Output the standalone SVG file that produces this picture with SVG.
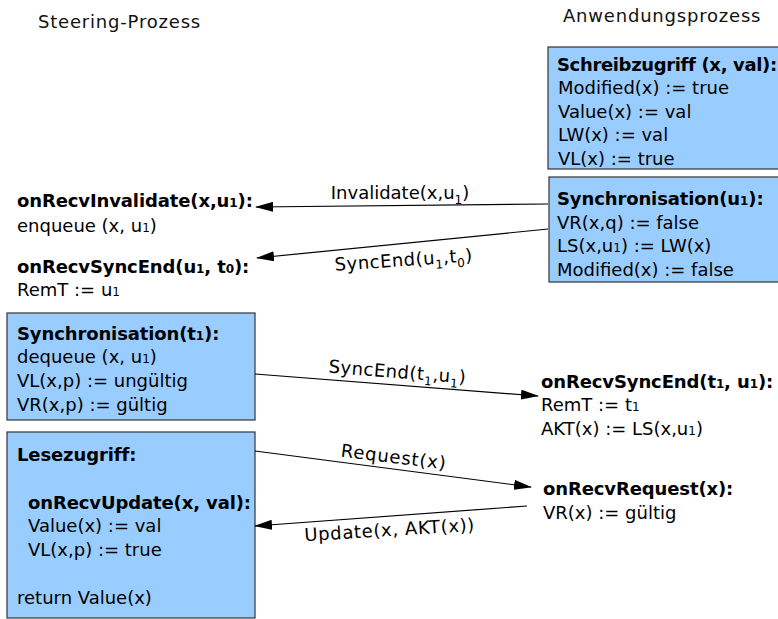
<svg xmlns="http://www.w3.org/2000/svg" width="778" height="619" viewBox="0 0 778 619">
  <style>
    text { font-family: "DejaVu Sans", "Liberation Sans", sans-serif; font-size: 18px; fill: #000; }
    .b { font-weight: bold; letter-spacing: -0.12px; }
    .sub { font-size: 12px; }
    .head { letter-spacing: 0.8px; fill: #111; }
    .lbl { letter-spacing: 0.5px; }
    .box { fill: #99ccff; stroke: #333; stroke-width: 1.2; }
    .conn { stroke: #000; stroke-width: 1.2; fill: none; marker-end: url(#arrow); }
  </style>
  <defs>
    <marker id="arrow" viewBox="0 0 18 10" refX="17" refY="5" markerWidth="18" markerHeight="10" markerUnits="userSpaceOnUse" orient="auto">
      <path d="M0,0 L18,5 L0,10 Z" fill="#000"/>
    </marker>
  </defs>

  <!-- column headings -->
  <text x="38" y="28" class="head">Steering-Prozess</text>
  <text x="563" y="22" class="head">Anwendungsprozess</text>

  <!-- application process: write access -->
  <g id="schreibzugriff">
    <rect class="box" x="548" y="47" width="240" height="122"/>
    <text x="557" y="71" class="b" style="letter-spacing:-0.35px">Schreibzugriff (x, val):</text>
    <text x="558" y="94">Modified(x) := true</text>
    <text x="558" y="118">Value(x) := val</text>
    <text x="558" y="141">LW(x) := val</text>
    <text x="558" y="165">VL(x) := true</text>
  </g>

  <!-- application process: synchronisation -->
  <g id="sync-u1">
    <rect class="box" x="549" y="177" width="240" height="105"/>
    <text x="557" y="205" class="b">Synchronisation(u<tspan class="sub">1</tspan>):</text>
    <text x="557" y="229">VR(x,q) := false</text>
    <text x="557" y="252">LS(x,u<tspan class="sub">1</tspan>) := LW(x)</text>
    <text x="557" y="276">Modified(x) := false</text>
  </g>

  <!-- steering process handlers -->
  <g id="recv-invalidate">
    <text x="17" y="207" class="b">onRecvInvalidate(x,u<tspan class="sub">1</tspan>):</text>
    <text x="17" y="232">enqueue (x, u<tspan class="sub">1</tspan>)</text>
  </g>
  <g id="recv-syncend-u1">
    <text x="17" y="273" class="b">onRecvSyncEnd(u<tspan class="sub">1</tspan>, t<tspan class="sub">0</tspan>):</text>
    <text x="17" y="296">RemT := u<tspan class="sub">1</tspan></text>
  </g>

  <g id="sync-t1">
    <rect class="box" x="7" y="313" width="248" height="107"/>
    <text x="17" y="340" class="b">Synchronisation(t<tspan class="sub">1</tspan>):</text>
    <text x="17" y="363">dequeue (x, u<tspan class="sub">1</tspan>)</text>
    <text x="17" y="387">VL(x,p) := ungültig</text>
    <text x="17" y="411">VR(x,p) := gültig</text>
  </g>

  <g id="lesezugriff">
    <rect class="box" x="7" y="432" width="248" height="186"/>
    <text x="17" y="461" class="b">Lesezugriff:</text>
    <text x="28" y="509" class="b">onRecvUpdate(x, val):</text>
    <text x="28" y="532">Value(x) := val</text>
    <text x="28" y="556">VL(x,p) := true</text>
    <text x="17" y="604">return Value(x)</text>
  </g>

  <!-- application process handlers -->
  <g id="recv-syncend-t1">
    <text x="541" y="388" class="b">onRecvSyncEnd(t<tspan class="sub">1</tspan>, u<tspan class="sub">1</tspan>):</text>
    <text x="541" y="411">RemT := t<tspan class="sub">1</tspan></text>
    <text x="541" y="435">AKT(x) := LS(x,u<tspan class="sub">1</tspan>)</text>
  </g>
  <g id="recv-request">
    <text x="543" y="495" class="b">onRecvRequest(x):</text>
    <text x="543" y="519">VR(x) := gültig</text>
  </g>

  <!-- messages -->
  <g id="connectors">
    <line class="conn" x1="548" y1="204" x2="256" y2="207"/>
    <line class="conn" x1="548" y1="229" x2="257" y2="258"/>
    <line class="conn" x1="255" y1="374" x2="538" y2="396"/>
    <line class="conn" x1="255" y1="451" x2="531" y2="487"/>
    <line class="conn" x1="527" y1="506" x2="255" y2="526"/>

    <text x="400" y="199" text-anchor="middle">Invalidate(x,u<tspan class="sub" dy="5">1</tspan><tspan dy="-5">)</tspan></text>
    <text x="404" y="266" text-anchor="middle" class="lbl" transform="rotate(-4 404 266)">SyncEnd(u<tspan class="sub" dy="5">1</tspan><tspan dy="-5">,t</tspan><tspan class="sub" dy="5">0</tspan><tspan dy="-5">)</tspan></text>
    <text x="397" y="378" text-anchor="middle" class="lbl" transform="rotate(4.5 397 378)">SyncEnd(t<tspan class="sub" dy="5">1</tspan><tspan dy="-5">,u</tspan><tspan class="sub" dy="5">1</tspan><tspan dy="-5">)</tspan></text>
    <text x="393" y="463" text-anchor="middle" style="letter-spacing:0.85px" transform="rotate(7 393 463)">Request(x)</text>
    <text x="390" y="536" text-anchor="middle" style="letter-spacing:0.65px" transform="rotate(-3.5 390 536)">Update(x, AKT(x))</text>
  </g>
</svg>
